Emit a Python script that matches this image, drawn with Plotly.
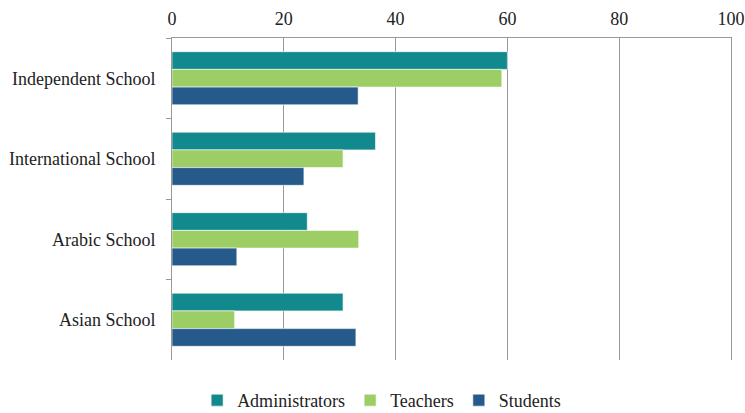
import plotly.graph_objects as go

categories = ["Independent School", "International School", "Arabic School", "Asian School"]
administrators = [60.0, 36.4, 24.2, 30.6]
teachers = [59.0, 30.6, 33.4, 11.2]
students = [33.3, 23.6, 11.6, 32.9]
x_ticks = [0, 20, 40, 60, 80, 100]

series = [
    ("Administrators", administrators, "#12898D"),
    ("Teachers", teachers, "#9DCE66"),
    ("Students", students, "#265A8A"),
]

fig = go.Figure()
for name, vals, color in series:
    fig.add_trace(go.Bar(
        y=categories, x=vals, name=name, orientation="h",
        marker=dict(color=color, line=dict(color="rgba(255,255,255,0.6)", width=1)),
    ))

font = "Liberation Serif"
fig.update_layout(
    width=745, height=413,
    margin=dict(l=172, r=14, t=38, b=53, autoexpand=False),
    paper_bgcolor="white", plot_bgcolor="white",
    barmode="group", bargap=0.34, bargroupgap=0,
    font=dict(family=font, size=18, color="#222222"),
    showlegend=True,
    legend=dict(orientation="h", x=0.375, xanchor="center", y=-0.183, yanchor="bottom",
                font=dict(family=font, size=18, color="#222222"), traceorder="normal",
                itemwidth=30, borderwidth=0, bgcolor="rgba(0,0,0,0)"),
    xaxis=dict(side="top", range=[0, 100], tickvals=x_ticks, showgrid=True,
               gridcolor="#999999", gridwidth=1, showline=True, linecolor="#999999",
               zeroline=False, ticks="", tickfont=dict(family=font, size=18), ticklabelstandoff=5,
               automargin=False),
    yaxis=dict(autorange="reversed", showline=True, linecolor="#999999", mirror=True,
               ticks="outside", tickson="boundaries", ticklen=5, tickcolor="#999999",
               tickfont=dict(family=font, size=18), ticklabelstandoff=12, automargin=False),
)

fig.write_html("out.html")
